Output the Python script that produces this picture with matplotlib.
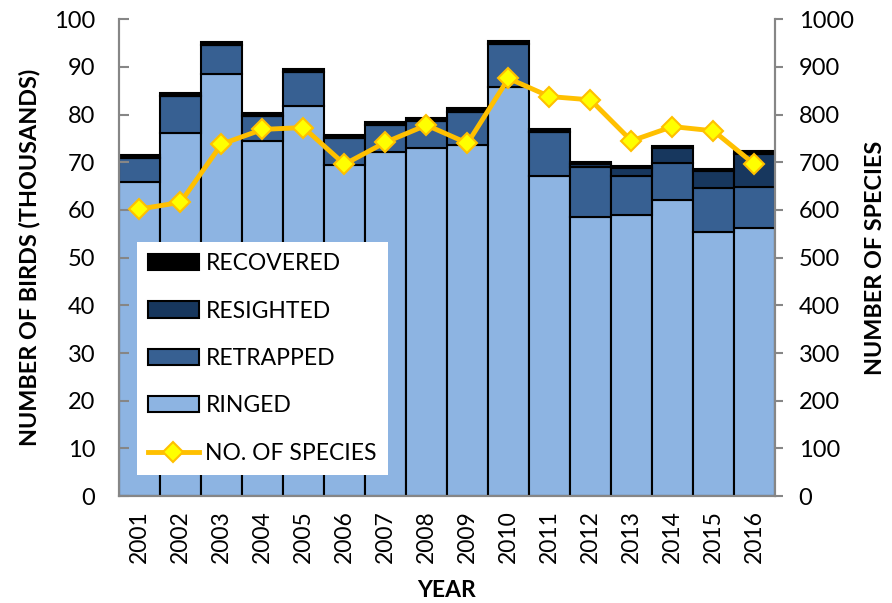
import numpy as np
import matplotlib.pyplot as plt

plt.rcParams['font.family'] = ['Lato', 'DejaVu Sans']

years = ['2001', '2002', '2003', '2004', '2005', '2006', '2007', '2008',
         '2009', '2010', '2011', '2012', '2013', '2014', '2015', '2016']
# thousands of birds
ringed = [65.9, 76.1, 88.5, 74.5, 81.9, 69.4, 72.2, 72.9,
          73.6, 85.7, 67.1, 58.6, 59.0, 62.1, 55.4, 56.2]
retrapped = [5.1, 7.8, 6.2, 5.3, 7.1, 5.7, 5.7, 5.7,
             7.0, 9.2, 9.2, 10.4, 8.2, 7.8, 9.3, 8.7]
resighted = [0.0, 0.0, 0.0, 0.0, 0.0, 0.0, 0.0, 0.0,
             0.0, 0.0, 0.0, 0.6, 1.6, 3.1, 3.5, 6.9]
recovered = [0.5, 0.6, 0.5, 0.5, 0.6, 0.6, 0.6, 0.6,
             0.7, 0.6, 0.6, 0.5, 0.5, 0.5, 0.5, 0.6]
species = [602, 616, 738, 769, 773, 696, 742, 778,
           740, 876, 838, 831, 745, 775, 766, 696]

names = ['RINGED', 'RETRAPPED', 'RESIGHTED', 'RECOVERED']
colours = ['#8DB4E2', '#376092', '#17375E', '#000000']
grey = '#868686'

fig, ax = plt.subplots(figsize=(8.92, 6.03), dpi=100)
fig.subplots_adjust(left=0.1334, right=0.8688, bottom=0.1774, top=0.968)

x = np.arange(len(years))
bottom = np.zeros(len(years))
bars = []
for vals, col, name in zip([ringed, retrapped, resighted, recovered], colours, names):
    b = ax.bar(x, vals, width=1.0, bottom=bottom, color=col,
               edgecolor='black', linewidth=1.5, label=name)
    bars.append(b)
    bottom += np.array(vals)

ax.set_xlim(-0.5, len(years) - 0.5)
ax.set_ylim(0, 100)
ax.set_yticks(range(0, 101, 10))
ax.set_xticks(x)
ax.set_xticklabels(years, rotation=90)
ax.tick_params(axis='x', length=0, labelsize=16.5, pad=10)
ax.tick_params(axis='y', direction='in', length=7, width=1.5, color=grey,
               labelsize=17, pad=17)
ax.set_xlabel('YEAR', fontsize=16.5, fontweight='bold', labelpad=12)
ax.set_ylabel('NUMBER OF BIRDS (THOUSANDS)', fontsize=16.8, fontweight='bold', labelpad=10)

ax2 = ax.twinx()
line, = ax2.plot(x, species, color='#FFC000', lw=3.5, marker='D', ms=10,
                 mfc='#FFFF00', mec='#FFC000', mew=1.5, label='NO. OF SPECIES')
ax2.set_ylim(0, 1000)
ax2.set_yticks(range(0, 1001, 100))
ax2.tick_params(axis='y', direction='out', length=6, width=1.5, color=grey,
                labelsize=17, pad=11)
ax2.set_ylabel('NUMBER OF SPECIES', fontsize=16.8, fontweight='bold', labelpad=8)

for a in (ax, ax2):
    for side in ('left', 'right', 'bottom'):
        a.spines[side].set_color(grey)
        a.spines[side].set_linewidth(1.5)
    a.spines['top'].set_visible(False)

handles = bars[::-1] + [line]
labels = names[::-1] + ['NO. OF SPECIES']
leg = ax2.legend(handles, labels, loc='lower left', bbox_to_anchor=(0.027, 0.044),
                 borderaxespad=0, frameon=True, fancybox=False, facecolor='white',
                 edgecolor='none', framealpha=1, fontsize=16.5, handlelength=2.2,
                 handleheight=0.7, labelspacing=1.15, handletextpad=0.3,
                 borderpad=0.5)

fig.savefig('out.png', dpi=100)
